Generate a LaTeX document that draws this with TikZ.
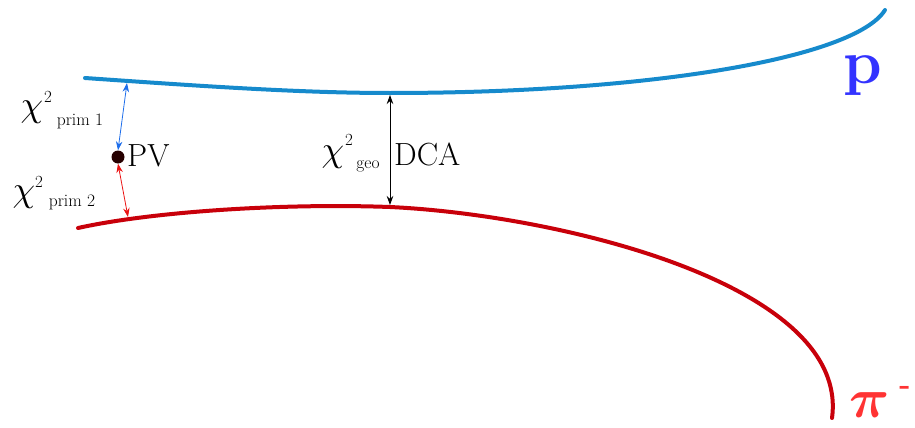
\documentclass[tikz,border=0pt]{standalone}
\usepackage{amsmath,amssymb,bm}
\usetikzlibrary{arrows.meta}
\definecolor{trkblue}{RGB}{22,138,204}
\definecolor{trkred}{RGB}{200,0,10}
\definecolor{arrblue}{RGB}{30,110,235}
\definecolor{arrred}{RGB}{235,20,20}
\definecolor{pblue}{RGB}{51,51,255}
\definecolor{pired}{RGB}{255,51,51}
\begin{document}
\begin{tikzpicture}[x=1pt,y=-1pt,
  track/.style={line width=4pt, line cap=round},
  dbl/.style={{Stealth[length=9pt,width=6.5pt]}-{Stealth[length=9pt,width=6.5pt]}, line width=0.8pt},
  chi/.style={inner sep=0pt, scale=3.6},
  supr/.style={inner sep=0pt, font=\fontsize{17}{17}\selectfont},
  subr/.style={inner sep=0pt, font=\fontsize{17.5}{17.5}\selectfont},
  big/.style={inner sep=0pt, font=\fontsize{32}{32}\selectfont}]
\useasboundingbox (0,0) rectangle (915,428);
% tracks
\draw[track, trkblue] (85,78) .. controls (200,86) and (300,93) .. (390,93)
  .. controls (650,93) and (855,58) .. (885,10);
\draw[track, trkred] (78,228) .. controls (150,212) and (280,203) .. (390,207)
  .. controls (560,215) and (850,285) .. (832,418);
% points
\coordinate (b1) at (127,83);
\coordinate (r1) at (128,217);
\coordinate (b2) at (390,95);
\coordinate (r2) at (390,205);
\node[circle, fill=black!85!red, inner sep=0pt, minimum size=13pt] (pv) at (118,157) {};
\node[big, anchor=west] (pvlab) at (127,156) {PV};
% arrows
\draw[dbl, arrblue] (b1) -- (pv.north);
\draw[dbl, arrred] (pv.south) -- (r1);
\draw[dbl, black] (b2) -- (r2);
% labels
\node[chi] (c1) at (32,112) {$\chi$};
\node[supr] (c1s) at (48,97) {2};
\node[subr] (c1b) at (80,121) {prim 1};
\node[chi] (c2) at (24,197) {$\chi$};
\node[supr] (c2s) at (39,182) {2};
\node[subr] (c2b) at (72,202) {prim 2};
\node[chi] (c3) at (333,157) {$\chi$};
\node[supr] (c3s) at (349,140) {2};
\node[subr] (c3b) at (368,166) {geo};
\node[big, anchor=west] (dca) at (394,154) {DCA};
\node[inner sep=0pt, text=pblue, font=\fontsize{62}{62}\selectfont\bfseries] (p) at (863,76) {p};
\node[inner sep=0pt, text=pired, scale=5.6] (pi) at (870,405) {$\bm{\pi}$};
\node[inner sep=0pt, text=pired, font=\fontsize{30}{30}\selectfont\bfseries] (pim) at (905,390) {-};
\end{tikzpicture}
\end{document}
